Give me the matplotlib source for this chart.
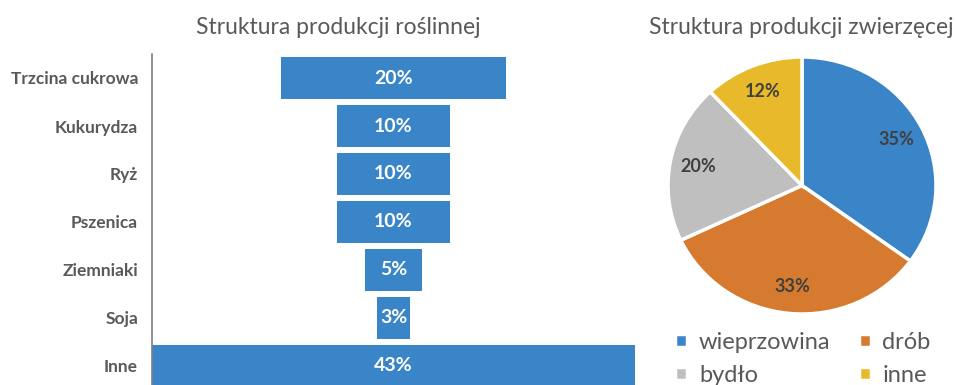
import matplotlib.pyplot as plt
import numpy as np

# plant production shares (funnel)
crops = ["Trzcina cukrowa", "Kukurydza", "Ryż", "Pszenica", "Ziemniaki", "Soja", "Inne"]
crop_share = [20, 10, 10, 10, 5, 3, 43]

# animal production shares (pie)
animals = ["wieprzowina", "drób", "bydło", "inne"]
animal_share = [35, 33, 20, 12]

BLUE = "#3a85c7"
pie_colors = [BLUE, "#d67a2f", "#bfbfbf", "#e8ba2b"]
TEXT = "#595959"

plt.rcParams["font.family"] = ["Lato", "DejaVu Sans"]

W, H = 956, 385
fig = plt.figure(figsize=(W / 100, H / 100), dpi=100)


def px_axes(left, top, right, bottom):
    # axes placed by pixel box (top/bottom measured from the top edge)
    return fig.add_axes([left / W, 1 - bottom / H, (right - left) / W, (bottom - top) / H])


# --- funnel: bars centred on the widest one ---
ax = px_axes(152, 54, 635, 390)
peak = max(crop_share)
y = np.arange(len(crops))
offsets = [(peak - v) / 2 for v in crop_share]
bars = ax.barh(y, crop_share, left=offsets, height=0.86, color=BLUE)
for b, v in zip(bars, crop_share):
    ax.text(b.get_x() + b.get_width() / 2, b.get_y() + b.get_height() / 2, f"{v}%",
            ha="center", va="center", color="white", fontsize=14, fontweight="bold")
ax.set_xlim(0, peak)
ax.set_ylim(len(crops) - 0.5, -0.5)
ax.set_yticks(y)
ax.set_yticklabels(crops, fontsize=12.5, fontweight="bold", color=TEXT)
ax.tick_params(axis="y", length=0, pad=10)
ax.set_xticks([])
for side in ["top", "right", "bottom"]:
    ax.spines[side].set_visible(False)
ax.spines["left"].set_color("#7f7f7f")
ax.spines["left"].set_linewidth(1.2)
fig.text(338 / W, 1 - 27 / H, "Struktura produkcji roślinnej", ha="center", va="center",
         fontsize=16.5, color=TEXT)

# --- pie ---
pax = px_axes(668, 57, 936, 314)
wedges, _, autotexts = pax.pie(animal_share, colors=pie_colors, startangle=90, counterclock=False,
                               autopct="%d%%", pctdistance=0.79,
                               wedgeprops=dict(edgecolor="white", linewidth=2.5),
                               textprops=dict(fontsize=13, fontweight="bold", color="#404040"))
pax.set_aspect("auto")
pax.set_xlim(-1, 1)
pax.set_ylim(-1, 1)
fig.text(801 / W, 1 - 27 / H, "Struktura produkcji zwierzęcej", ha="center", va="center",
         fontsize=16.5, color=TEXT)

# legend filled row by row: wieprzowina, drób / bydło, inne
order = [0, 2, 1, 3]
leg = fig.legend([wedges[i] for i in order], [animals[i] for i in order], loc="center",
                 bbox_to_anchor=(803 / W, 1 - 359 / H), ncol=2,
                 frameon=False, fontsize=17, handlelength=0.5, handleheight=0.5,
                 handletextpad=0.5, columnspacing=1.2, labelspacing=0.5, labelcolor=TEXT)

fig.savefig("out.png", dpi=100)
